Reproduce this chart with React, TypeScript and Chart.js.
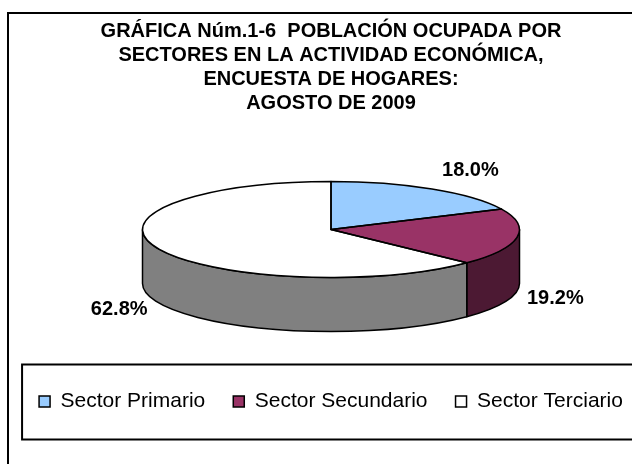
import React, { useEffect, useRef } from "react";
import { Chart, registerables } from "chart.js";

Chart.register(...registerables);

// ---- data ----
const TITLE_LINES = [
  "GRÁFICA Núm.1-6  POBLACIÓN OCUPADA POR",
  "SECTORES EN LA ACTIVIDAD ECONÓMICA,",
  "ENCUESTA DE HOGARES:",
  "AGOSTO DE 2009",
];
const CATEGORIES = ["Sector Primario", "Sector Secundario", "Sector Terciario"];
const SHARES = [18.0, 19.2, 62.8];
const TOP_COLORS = ["#99CCFF", "#993366", "#FFFFFF"];
const SIDE_COLORS = ["#4D6680", "#4C1933", "#808080"];

// ---- style ----
const FONT = "'Liberation Sans', Arial, Helvetica, sans-serif";
const W = 662;
const H = 464;
const RX = 188.5;
const RY = 48;
const DEPTH = 54;
const EDGE = 1.5;

const pie3d = {
  id: "pie3d",
  beforeDraw(chart: any) {
    const ctx = chart.ctx;
    ctx.save();
    ctx.fillStyle = "#fff";
    ctx.fillRect(0, 0, chart.width, chart.height);
    ctx.strokeStyle = "#000";
    ctx.lineWidth = 2;
    ctx.strokeRect(8, 13, chart.width + 20, chart.height + 20);
    ctx.restore();
  },
  beforeDatasetsDraw(chart: any) {
    const meta = chart.getDatasetMeta(0);
    const arcs = meta.data;
    if (!arcs.length) return;
    const a0 = arcs[0];
    const ca = chart.chartArea;
    const cx = a0.x;
    const cy = (ca.top + ca.bottom) / 2 - DEPTH / 2;
    chart.$pie = { cx, cy };
    const ctx = chart.ctx;
    ctx.save();
    ctx.lineWidth = EDGE;
    ctx.strokeStyle = "#000";
    ctx.lineJoin = "round";
    arcs.forEach((arc: any, i: number) => {
      const s = Math.max(arc.startAngle, 0);
      const e = Math.min(arc.endAngle, Math.PI);
      if (e <= s) return;
      ctx.beginPath();
      ctx.ellipse(cx, cy, RX, RY, 0, s, e);
      ctx.lineTo(cx + RX * Math.cos(e), cy + DEPTH + RY * Math.sin(e));
      ctx.ellipse(cx, cy + DEPTH, RX, RY, 0, e, s, true);
      ctx.closePath();
      ctx.fillStyle = SIDE_COLORS[i];
      ctx.fill();
      ctx.stroke();
    });
    ctx.restore();
    // squash the library's circular arcs into the top ellipse
    ctx.save();
    ctx.translate(cx, cy);
    ctx.scale(RX / a0.outerRadius, RY / a0.outerRadius);
    ctx.translate(-a0.x, -a0.y);
  },
  afterDatasetsDraw(chart: any) {
    const meta = chart.getDatasetMeta(0);
    const arcs = meta.data;
    if (!arcs.length || !chart.$pie) return;
    const ctx = chart.ctx;
    ctx.restore();
    const { cx, cy } = chart.$pie;
    ctx.save();
    ctx.lineWidth = EDGE;
    ctx.strokeStyle = "#000";
    ctx.lineJoin = "round";
    arcs.forEach((arc: any) => {
      const s = arc.startAngle;
      const e = arc.endAngle;
      ctx.beginPath();
      ctx.moveTo(cx, cy);
      ctx.lineTo(cx + RX * Math.cos(s), cy + RY * Math.sin(s));
      ctx.ellipse(cx, cy, RX, RY, 0, s, e);
      ctx.closePath();
      ctx.stroke();
    });
    // data labels
    ctx.fillStyle = "#000";
    ctx.font = `bold 20px ${FONT}`;
    ctx.textAlign = "center";
    ctx.textBaseline = "alphabetic";
    const values = chart.data.datasets[0].data as number[];
    arcs.forEach((arc: any, i: number) => {
      const m = (arc.startAngle + arc.endAngle) / 2;
      const c = Math.cos(m);
      const sn = Math.sin(m);
      const ax = cx + RX * c;
      const ay = cy + RY * sn + (sn > 0 ? DEPTH : 0);
      const txt = `${values[i].toFixed(1)}%`;
      const w = ctx.measureText(txt).width;
      const h = 15;
      const lx = ax + Math.sign(c) * (10 + w / 2);
      const ly = sn < 0 ? ay - 12 - h / 2 : ay - 2 + h / 2;
      ctx.fillText(txt, lx, ly + 7);
    });
    ctx.restore();
  },
  afterDraw(chart: any) {
    const lg = chart.legend;
    if (!lg || !lg.legendHitBoxes || !lg.legendHitBoxes.length) return;
    const boxes = lg.legendHitBoxes;
    let minX = Infinity;
    let maxX = -Infinity;
    let midY = 0;
    boxes.forEach((b: any) => {
      minX = Math.min(minX, b.left);
      maxX = Math.max(maxX, b.left + b.width);
      midY = b.top + b.height / 2;
    });
    const ctx = chart.ctx;
    ctx.save();
    ctx.strokeStyle = "#000";
    ctx.lineWidth = 2;
    ctx.strokeRect(minX - 17, midY - 37, maxX - minX + 29, 75);
    ctx.restore();
  },
};

export default function App() {
  const ref = useRef<HTMLCanvasElement | null>(null);
  useEffect(() => {
    if (!ref.current) return;
    document.body.style.margin = "0";
    const chart = new Chart(ref.current, {
      type: "pie",
      data: {
        labels: CATEGORIES,
        datasets: [
          {
            data: SHARES,
            backgroundColor: TOP_COLORS,
            borderWidth: 0,
            clip: false as any,
          },
        ],
      },
      options: {
        responsive: false,
        maintainAspectRatio: false,
        devicePixelRatio: 1,
        animation: false,
        events: [],
        layout: { padding: { top: 0, bottom: 42, left: 0, right: 0 } },
        plugins: {
          title: {
            display: true,
            text: TITLE_LINES,
            color: "#000",
            font: { family: FONT, size: 20, weight: "bold", lineHeight: 1.2 },
            padding: { top: 19, bottom: 35 },
          },
          legend: {
            display: true,
            position: "bottom",
            labels: {
              color: "#000",
              font: { family: FONT, size: 21 },
              boxWidth: 11,
              boxHeight: 11,
              padding: 28,
              generateLabels: () =>
                CATEGORIES.map((c, i) => ({
                  text: c,
                  fillStyle: TOP_COLORS[i],
                  strokeStyle: "#000",
                  lineWidth: 1.5,
                  hidden: false,
                  index: i,
                  fontColor: "#000",
                })),
            },
          },
          tooltip: { enabled: false },
        },
      },
      plugins: [pie3d],
    });
    return () => chart.destroy();
  }, []);
  return (
    <div
      style={{
        position: "fixed",
        left: 0,
        top: 0,
        width: 632,
        height: 464,
        overflow: "hidden",
        background: "#fff",
      }}
    >
      <canvas ref={ref} width={W} height={H} style={{ display: "block" }} />
    </div>
  );
}
